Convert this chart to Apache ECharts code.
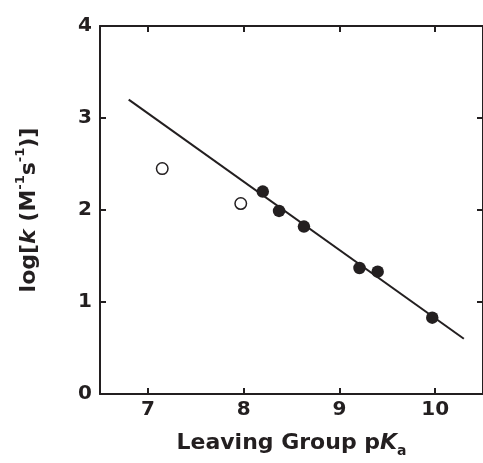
<!DOCTYPE html>
<html>
<head>
<meta charset="utf-8">
<script src="https://cdn.jsdelivr.net/npm/echarts@6/dist/echarts.min.js"></script>
<style>html,body{margin:0;padding:0;background:#fff}#c{width:483px;height:463px}</style>
</head>
<body>
<div id="c"></div>
<script>
// Data
const openX = [7.15, 7.97];
const openY = [2.45, 2.07];
const filledX = [8.2, 8.37, 8.63, 9.21, 9.4, 9.97];
const filledY = [2.2, 1.99, 1.82, 1.37, 1.33, 0.83];
const fitX = [6.8, 10.3];
const fitY = [3.2, 0.6];
const xTicks = [7, 8, 9, 10];
const yTicks = [0, 1, 2, 3, 4];

const ink = '#231f20';
const font = 'DejaVu Sans';
const zip = (a, b) => a.map((v, i) => [v, b[i]]);

const chart = echarts.init(document.getElementById('c'), null, {renderer: 'canvas'});
const axisCommon = {
  axisLine: {show: true, onZero: false, lineStyle: {color: ink, width: 2}},
  axisTick: {show: true, inside: true, length: 6, lineStyle: {color: ink, width: 2}},
  splitLine: {show: false}
};
const nameRich = {
  n: {fontFamily: font, fontWeight: 'bold', fontSize: 22, color: ink, lineHeight: 30},
  i: {fontFamily: font, fontWeight: 'bold', fontStyle: 'italic', fontSize: 22, color: ink, lineHeight: 30},
  sub: {fontFamily: font, fontWeight: 'bold', fontSize: 14, color: ink, lineHeight: 12, verticalAlign: 'bottom'},
  sup: {fontFamily: font, fontWeight: 'bold', fontSize: 13, color: ink, lineHeight: 14, verticalAlign: 'top'}
};
chart.setOption({
  animation: false,
  backgroundColor: '#fff',
  grid: {left: 100, top: 26, right: -1, bottom: 69, containLabel: false},
  xAxis: [
    Object.assign({}, axisCommon, {
      type: 'value', position: 'bottom', min: 6.5, max: 10.5,
      axisLabel: {
        margin: 6, fontFamily: font, fontWeight: 'bold', fontSize: 20, color: ink,
        customValues: xTicks
      },
      axisTick: Object.assign({}, axisCommon.axisTick, {customValues: xTicks}),
      name: '{n|Leaving Group p}{i|K}{sub|a}',
      nameLocation: 'middle', nameGap: 34,
      nameTextStyle: {rich: nameRich}
    }),
    Object.assign({}, axisCommon, {
      type: 'value', position: 'top', min: 6.5, max: 10.5,
      axisLabel: {show: false},
      axisTick: Object.assign({}, axisCommon.axisTick, {customValues: xTicks})
    })
  ],
  yAxis: [
    Object.assign({}, axisCommon, {
      type: 'value', position: 'left', min: 0, max: 4, interval: 1,
      axisLabel: {
        margin: 8, fontFamily: font, fontWeight: 'bold', fontSize: 20, color: ink,
        padding: [0, 0, 6, 0],
        customValues: yTicks
      },
      axisTick: Object.assign({}, axisCommon.axisTick, {customValues: yTicks}),
      name: '{n|log[}{i|k}{n| (M}{sup|-1}{n|s}{sup|-1}{n|)]}',
      nameLocation: 'middle', nameGap: 56, nameRotate: 90,
      nameTextStyle: {rich: nameRich}
    }),
    Object.assign({}, axisCommon, {
      type: 'value', position: 'right', min: 0, max: 4, interval: 1,
      axisLabel: {show: false},
      axisTick: Object.assign({}, axisCommon.axisTick, {customValues: yTicks})
    })
  ],
  series: [
    {
      type: 'line', data: zip(fitX, fitY), showSymbol: false, symbol: 'none',
      lineStyle: {color: ink, width: 2}, z: 2, silent: true
    },
    {
      type: 'scatter', data: zip(filledX, filledY), symbol: 'circle', symbolSize: 12.5,
      itemStyle: {color: ink, borderWidth: 0, opacity: 1}, z: 3
    },
    {
      type: 'scatter', data: zip(openX, openY), symbol: 'circle', symbolSize: 11.5,
      itemStyle: {color: '#fff', borderColor: ink, borderWidth: 1.5, opacity: 1}, z: 3
    }
  ]
});
</script>
</body>
</html>
